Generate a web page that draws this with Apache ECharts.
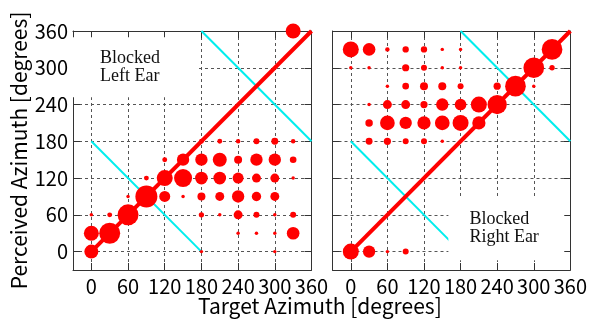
<!DOCTYPE html>
<html>
<head>
<meta charset="utf-8">
<script src="https://cdn.jsdelivr.net/npm/echarts@6/dist/echarts.min.js"></script>
<style>html,body{margin:0;padding:0;background:#fff;}#c{width:590px;height:322px;}</style>
</head>
<body>
<div id="c"></div>
<script>
// Tick labels
const xTicks = [0, 60, 120, 180, 240, 300, 360];
const yTicks = [0, 60, 120, 180, 240, 300, 360];

// Blocked left ear: target azimuth, perceived azimuth, response weight
const leftX = [0, 0, 30, 0, 30, 60, 60, 90, 90, 120, 120, 120, 150, 150, 150,
  180, 210, 240, 270, 300, 330,
  180, 210, 240, 270, 300, 330,
  180, 210, 240, 270, 300, 330,
  180, 210, 240, 270, 300,
  180, 210, 240, 270, 300, 330,
  240, 270, 300, 330,
  180, 300, 330];
const leftY = [0, 30, 30, 60, 60, 60, 90, 90, 120, 90, 120, 150, 90, 120, 150,
  180, 180, 180, 180, 180, 180,
  150, 150, 150, 150, 150, 150,
  120, 120, 120, 120, 120, 120,
  90, 90, 90, 90, 90,
  60, 60, 60, 60, 60, 60,
  30, 30, 30, 30,
  0, 0, 360];
const leftV = [49, 56, 110, 3, 6, 110, 3, 121, 6, 30, 64, 6, 3, 81, 38,
  6, 6, 5, 9, 12, 5,
  38, 49, 16, 38, 38, 11,
  40, 40, 30, 20, 20, 3,
  16, 20, 38, 22, 20,
  7, 3, 20, 9, 3, 9,
  3, 3, 3, 40,
  3, 3, 56];

// Blocked right ear
const rightX = [0, 30, 60, 90, 120, 150, 180, 330,
  0, 30, 90, 120, 150, 180, 300, 330,
  60, 90, 120, 150, 180, 240, 270, 300,
  30, 60, 90, 120, 150, 180, 210, 240,
  30, 60, 90, 120, 150, 180, 210,
  30, 60, 90, 120, 150,
  0, 30, 60, 90];
const rightY = [330, 330, 330, 330, 330, 330, 330, 330,
  300, 300, 300, 300, 300, 300, 300, 300,
  270, 270, 270, 270, 270, 270, 270, 270,
  240, 240, 240, 240, 240, 240, 240, 240,
  210, 210, 210, 210, 210, 210, 210,
  180, 180, 180, 180, 180,
  0, 0, 0, 0];
const rightV = [64, 40, 5, 10, 10, 3, 3, 107,
  3, 3, 13, 9, 3, 3, 107, 7,
  3, 11, 16, 16, 9, 13, 107, 3,
  3, 20, 20, 13, 38, 34, 64, 93,
  14, 54, 38, 44, 54, 64, 44,
  12, 13, 9, 9, 3,
  64, 38, 3, 9];

// Reference lines
const diagLine = [[0, 0], [360, 360]];
const cyanLow = [[0, 180], [180, 0]];
const cyanHigh = [[180, 360], [360, 180]];

// Annotation boxes (data coordinates)
const leftBox = [[-30, 350], [175, 252]];
const rightBox = [[160, 90], [350, -14]];

const FONT = '"Noto Sans CJK JP", "Noto Sans", sans-serif';
const G = [{left: 73, top: 31, width: 238.5, height: 239}, {left: 332.5, top: 31, width: 238.5, height: 239}];

function pts(xs, ys, vs) { return xs.map((x, i) => [x, ys[i], vs[i]]); }

const gridLine = {show: true, lineStyle: {color: '#555', width: 1, type: [3, 3]}};
const axLine = {show: true, onZero: false, lineStyle: {color: '#333', width: 1}};
const tick = {show: true, inside: true, length: 7, lineStyle: {color: '#333'}};

function xAx(g, pos, labels) {
  return {
    type: 'value', gridIndex: g, position: pos, min: -30, max: 360,
    axisLine: axLine,
    axisTick: Object.assign({}, tick, {customValues: xTicks}),
    axisLabel: {show: labels, customValues: xTicks, fontFamily: FONT, fontSize: 20, color: '#000', margin: 6},
    splitLine: labels ? gridLine : {show: false}
  };
}
function yAx(g, pos, labels, name) {
  const a = {
    type: 'value', gridIndex: g, position: pos, min: -30, max: 360,
    axisLine: axLine,
    axisTick: Object.assign({}, tick, {customValues: yTicks}),
    axisLabel: {show: labels, customValues: yTicks, fontFamily: FONT, fontSize: 20, color: '#000', margin: 5},
    splitLine: pos === 'left' ? gridLine : {show: false}
  };
  if (name) {
    a.name = name; a.nameLocation = 'middle'; a.nameGap = 43;
    a.nameTextStyle = {fontFamily: FONT, fontSize: 21, color: '#000'};
  }
  return a;
}

function lineS(xi, data, color, width, z) {
  return {type: 'line', xAxisIndex: xi, yAxisIndex: xi, data: data, symbol: 'none',
    lineStyle: {color: color, width: width}, z: z, silent: true, animation: false};
}
function boxS(xi, box, text, dist) {
  return {type: 'scatter', xAxisIndex: xi, yAxisIndex: xi, data: [], z: 3, animation: false,
    markArea: {silent: true, z: 3, itemStyle: {color: '#fff', opacity: 1, borderWidth: 0},
      label: {show: true, position: 'insideLeft', distance: dist, fontFamily: '"Liberation Serif", serif',
        fontSize: 18, lineHeight: 18, color: '#111'},
      data: [[{coord: box[0], name: text}, {coord: box[1]}]]}};
}
function dotS(xi, data) {
  return {type: 'scatter', xAxisIndex: xi, yAxisIndex: xi, data: data, z: 5, animation: false,
    symbolSize: d => 2 * Math.sqrt(d[2]), itemStyle: {color: '#ff0000', opacity: 1}};
}

const chart = echarts.init(document.getElementById('c'), null, {renderer: 'canvas'});
chart.setOption({
  animation: false,
  backgroundColor: '#fff',
  grid: G,
  xAxis: [xAx(0, 'bottom', true), xAx(1, 'bottom', true), xAx(0, 'top', false), xAx(1, 'top', false)],
  yAxis: [yAx(0, 'left', true, 'Perceived Azimuth [degrees]'), yAx(1, 'left', false), yAx(0, 'right', false), yAx(1, 'right', false)],
  series: [
    lineS(0, cyanLow, '#00eeee', 2, 2), lineS(0, cyanHigh, '#00eeee', 2, 2),
    lineS(1, cyanLow, '#00eeee', 2, 2), lineS(1, cyanHigh, '#00eeee', 2, 2),
    boxS(0, leftBox, 'Blocked\nLeft Ear', 27), boxS(1, rightBox, 'Blocked\nRight Ear', 21),
    lineS(0, diagLine, '#ff0000', 4, 4), lineS(1, diagLine, '#ff0000', 4, 4),
    dotS(0, pts(leftX, leftY, leftV)), dotS(1, pts(rightX, rightY, rightV))
  ],
  graphic: [{type: 'text', left: (G[0].left + G[1].left + G[1].width) / 2 - 124, top: 296,
    style: {text: 'Target Azimuth [degrees]', font: '21px ' + FONT, fill: '#000'}}]
});
</script>
</body>
</html>
